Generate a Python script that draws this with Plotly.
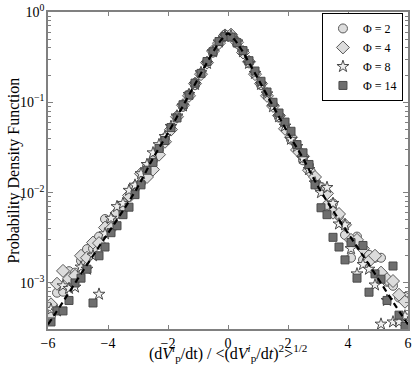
import plotly.graph_objects as go

X_BINS = [-5.9, -5.7, -5.5, -5.3, -5.1, -4.9, -4.7, -4.5, -4.3, -4.1,
          -3.9, -3.7, -3.5, -3.3, -3.1, -2.9, -2.7, -2.5, -2.3, -2.1,
          -1.9, -1.7, -1.5, -1.3, -1.1, -0.9, -0.7, -0.5, -0.3, -0.1,
          0.1, 0.3, 0.5, 0.7, 0.9, 1.1, 1.3, 1.5, 1.7, 1.9,
          2.1, 2.3, 2.5, 2.7, 2.9, 3.1, 3.3, 3.5, 3.7, 3.9,
          4.1, 4.3, 4.5, 4.7, 4.9, 5.1, 5.3, 5.5, 5.7, 5.9]

PDF_PHI2 = [4.3e-4, 7.8e-4, 8.0e-4, 1.35e-3, 1.3e-3, 1.76e-3, 2.37e-3, 2.4e-3, 3.26e-3, 5.1e-3,
            4.8e-3, 5.8e-3, 6.9e-3, 8.9e-3, 1.1e-2, 1.28e-2, 1.95e-2, 2.28e-2, 3.0e-2, 4.06e-2,
            5.09e-2, 6.92e-2, 8.94e-2, 0.122, 0.155, 0.209, 0.281, 0.356, 0.457, 0.561,
            0.550, 0.448, 0.370, 0.272, 0.213, 0.155, 0.120, 9.39e-2, 6.78e-2, 5.36e-2,
            3.86e-2, 3.21e-2, 2.28e-2, 2.01e-2, 1.42e-2, 1.16e-2, 7.3e-3, 7.6e-3, 5.5e-3, 3.4e-3,
            1.9e-3, 3.26e-3, 1.8e-3, 2.05e-3, 1.9e-3, 1.9e-3, 1.03e-3, 9.3e-4, 6.9e-4, 7.0e-4]

PDF_PHI4 = [5.8e-4, 9.8e-4, 1.36e-3, 1.11e-3, 1.2e-3, 2.0e-3, 1.9e-3, 2.8e-3, 2.76e-3, 4.1e-3,
            3.98e-3, 6.0e-3, 6.6e-3, 9.3e-3, 1.16e-2, 1.62e-2, 1.49e-2, 1.8e-2, 2.63e-2, 3.66e-2,
            4.99e-2, 6.92e-2, 9.30e-2, 0.118, 0.161, 0.205, 0.275, 0.370, 0.452, 0.550,
            0.561, 0.462, 0.356, 0.281, 0.205, 0.161, 0.118, 9.12e-2, 7.13e-2, 5.09e-2,
            4.10e-2, 2.97e-2, 2.52e-2, 1.77e-2, 1.49e-2, 1.10e-2, 9.8e-3, 6.0e-3, 5.8e-3, 4.4e-3,
            3.0e-3, 3.0e-3, 2.4e-3, 1.74e-3, 2.0e-3, 1.3e-3, 1.1e-3, 1.05e-3, 7.4e-4, 6.2e-4]

PDF_PHI8 = [5.1e-4, 4.9e-4, 9.3e-4, 8.7e-4, 9.0e-4, 1.5e-3, 1.42e-3, 2.0e-3, 7.5e-4, 3.5e-3,
            5.2e-3, 7.0e-3, 7.6e-3, 1.06e-2, 1.21e-2, 1.62e-2, 2.05e-2, 2.76e-2, 3.40e-2, 4.18e-2,
            5.41e-2, 7.06e-2, 9.12e-2, 0.122, 0.158, 0.213, 0.270, 0.363, 0.466, 0.539,
            0.545, 0.466, 0.363, 0.270, 0.209, 0.158, 0.124, 8.94e-2, 6.92e-2, 5.46e-2,
            3.90e-2, 3.24e-2, 2.40e-2, 1.80e-2, 1.28e-2, 1.00e-2, 1.14e-2, 7.6e-3, 4.5e-3, 4.4e-3,
            2.4e-3, 1.26e-3, 1.6e-3, 1.42e-3, 9.5e-4, 3.5e-4, 6.4e-4, 3.7e-4, 3.7e-4, 4.3e-4]

PDF_PHI14 = [3.7e-4, 4.9e-4, 4.9e-4, 6.4e-4, 1.0e-3, 1.13e-3, 1.42e-3, 6.0e-4, 2.0e-3, 2.5e-3,
             3.6e-3, 4.3e-3, 5.7e-3, 6.9e-3, 9.5e-3, 1.22e-2, 1.77e-2, 2.16e-2, 3.09e-2, 3.78e-2,
             5.25e-2, 6.71e-2, 9.39e-2, 0.120, 0.163, 0.209, 0.283, 0.363, 0.471, 0.534,
             0.528, 0.457, 0.374, 0.289, 0.222, 0.171, 0.130, 0.100, 7.61e-2, 6.04e-2,
             4.78e-2, 3.40e-2, 2.76e-2, 2.05e-2, 1.22e-2, 6.8e-3, 5.7e-3, 3.2e-3, 2.5e-3, 1.8e-3,
             2.8e-3, 1.13e-3, 2.6e-3, 7.9e-4, 1.26e-3, 1.1e-3, 6.4e-4, 1.54e-3, 4.4e-4, 3.3e-4]

CURVE_X = [-6.0, -5.5, -5.0, -4.5, -4.0, -3.5, -3.0, -2.5, -2.0, -1.6, -1.2, -0.8, -0.4, -0.2, 0.0,
           0.2, 0.4, 0.8, 1.2, 1.6, 2.0, 2.5, 3.0, 3.5, 4.0, 4.5, 5.0, 5.5, 6.0]
CURVE_Y = [3.47e-4, 6.17e-4, 1.12e-3, 2.00e-3, 3.55e-3, 6.31e-3, 1.17e-2, 2.40e-2, 4.57e-2, 7.94e-2,
           0.138, 0.240, 0.407, 0.501, 0.575,
           0.501, 0.407, 0.240, 0.138, 7.94e-2, 4.57e-2, 2.40e-2, 1.17e-2, 6.31e-3, 3.55e-3,
           2.00e-3, 1.12e-3, 6.17e-4, 3.47e-4]

SERIES_NAMES = ["Φ = 2", "Φ = 4", "Φ = 8", "Φ = 14"]
X_TICKS = [-6, -4, -2, 0, 2, 4, 6]
X_TICK_TEXT = ["−6", "−4", "−2", "0", "2", "4", "6"]
Y_TICKS = [1, 0.1, 0.01, 0.001]
Y_TICK_TEXT = ["10<sup>0</sup>", "10<sup>−1</sup>", "10<sup>−2</sup>", "10<sup>−3</sup>"]
Y_MINOR_TICKS = [4e-4, 5e-4, 6e-4, 7e-4, 8e-4, 9e-4,
                 2e-3, 3e-3, 4e-3, 5e-3, 6e-3, 7e-3, 8e-3, 9e-3,
                 2e-2, 3e-2, 4e-2, 5e-2, 6e-2, 7e-2, 8e-2, 9e-2,
                 0.2, 0.3, 0.4, 0.5, 0.6, 0.7, 0.8, 0.9]

FONT = "Liberation Serif, Times New Roman, serif"

styles = [
    dict(symbol="circle", size=9, color="#dcdcdc", line=dict(color="#5a5a5a", width=1)),
    dict(symbol="diamond", size=10, color="#dcdcdc", line=dict(color="#5a5a5a", width=1)),
    dict(symbol="star", size=9, color="#eeeeee", line=dict(color="#4a4a4a", width=1)),
    dict(symbol="square", size=8, color="#6e6e6e", line=dict(color="#4a4a4a", width=1)),
]

fig = go.Figure()
for name, ys, st in zip(SERIES_NAMES, [PDF_PHI2, PDF_PHI4, PDF_PHI8, PDF_PHI14], styles):
    fig.add_trace(go.Scatter(x=X_BINS, y=ys, mode="markers", name=name, marker=st))

fig.add_trace(go.Scatter(x=CURVE_X, y=CURVE_Y, mode="lines", showlegend=False,
                         line=dict(color="black", width=2.2, dash="6px,4px", shape="spline")))

axis_common = dict(showline=True, linecolor="#808080", linewidth=1.5, mirror="allticks",
                   ticks="inside", tickcolor="#808080", showgrid=False, zeroline=False,
                   automargin=False,
                   tickfont=dict(family=FONT, size=14, color="black"))

fig.update_xaxes(range=[-6, 6], tickvals=X_TICKS, ticktext=X_TICK_TEXT, ticklen=4,
                 ticklabeloverflow="allow", **axis_common)
fig.update_yaxes(type="log", range=[-3.51, 0], tickvals=Y_TICKS, ticktext=Y_TICK_TEXT,
                 ticklen=5, ticklabelstandoff=-1,
                 minor=dict(ticks="inside", ticklen=3, tickcolor="#808080", showgrid=False,
                            tickvals=Y_MINOR_TICKS),
                 **axis_common)

# Axis titles
fig.add_annotation(
    text="(d<i>V</i><sup><i>i</i></sup><sub>p</sub>/dt) / &lt;(d<i>V</i><sup><i>i</i></sup><sub>p</sub>/d<i>t</i>)<sup>2</sup>&gt;<sup>1/2</sup>",
    xref="paper", yref="paper", x=0.5, y=-0.075, xanchor="center", yanchor="middle",
    showarrow=False, font=dict(family=FONT, size=16, color="black"))
fig.add_annotation(
    text="Probability Density Function", textangle=-90,
    xref="paper", yref="paper", x=-0.097, y=0.5, xanchor="center", yanchor="middle",
    showarrow=False, font=dict(family=FONT, size=16, color="black"))

fig.update_layout(
    template="none",
    width=415, height=377,
    margin=dict(l=48, r=7, t=12, b=48, pad=0),
    paper_bgcolor="white", plot_bgcolor="white",
    font=dict(family=FONT, size=14, color="black"),
    legend=dict(x=0.986, y=0.997, xanchor="right", yanchor="top",
                bgcolor="white", bordercolor="black", borderwidth=1,
                font=dict(family=FONT, size=12), itemwidth=30, tracegroupgap=0),
)

# Remove the browser's default 8px body margin so the figure fills the window exactly.
fig.write_html("out.html", config={"displayModeBar": False},
               post_script="document.body.style.margin='0px';document.body.style.overflow='hidden';")
